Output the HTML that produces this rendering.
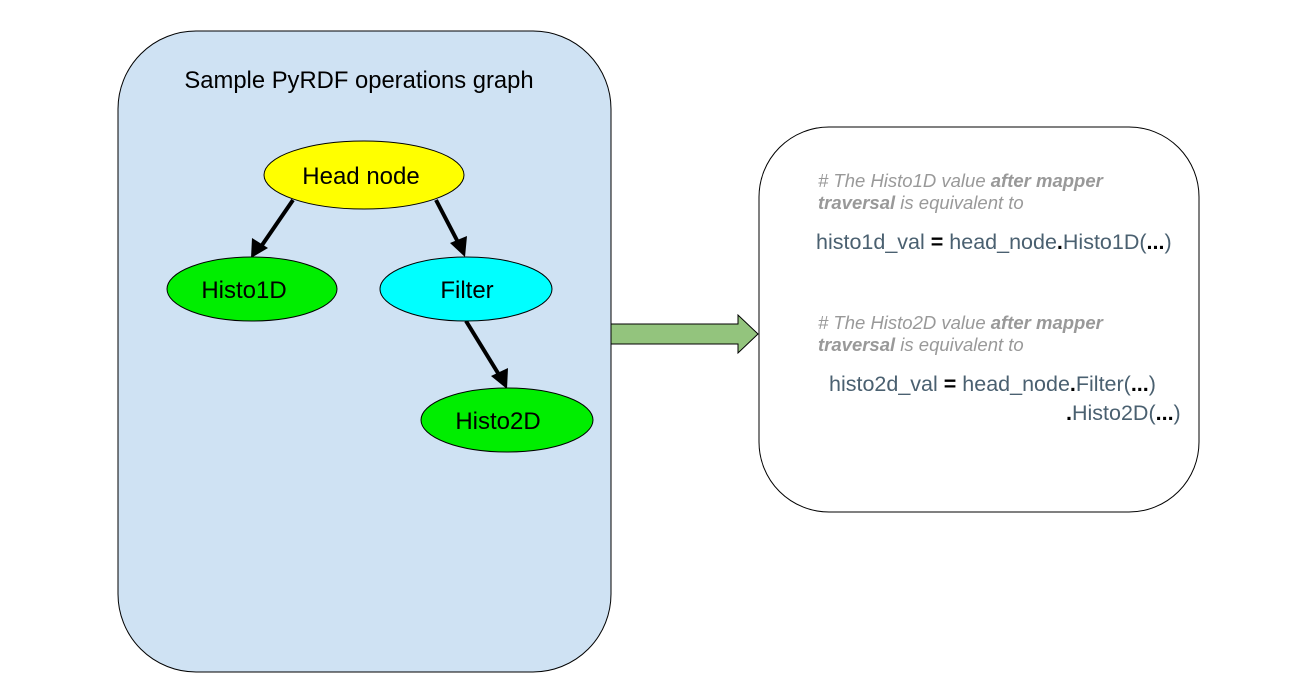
<!DOCTYPE html>
<html><head><style>
html,body{margin:0;padding:0;background:#fff;}
body{width:1302px;height:690px;position:relative;overflow:hidden;font-family:"Liberation Sans",sans-serif;}
.t{position:absolute;white-space:nowrap;line-height:1;}
.c{color:#999;font-style:italic;font-size:18.5px;}
.c b{color:#999;}
.code{color:#4a6070;font-size:21.5px;}
.code b{color:#000;}
</style></head><body>
<svg width="1302" height="690" style="position:absolute;left:0;top:0">
<rect x="118" y="31" width="493" height="641" rx="78" fill="#cfe2f3" stroke="#000" stroke-width="1"/>
<rect x="759" y="127" width="440" height="385" rx="70" fill="#fff" stroke="#000" stroke-width="1"/>
<path d="M611,324 L738,324 L738,315 L758,334 L738,353 L738,344 L611,344 z" fill="#93c47d" stroke="#000" stroke-width="1"/>
<line x1="293" y1="200" x2="258" y2="251" stroke="#000" stroke-width="4"/>
<path d="M251,258 L252,238 L268,248 z" fill="#000"/>
<line x1="436" y1="200" x2="461" y2="248" stroke="#000" stroke-width="4"/>
<path d="M465,257 L450,243 L467,236 z" fill="#000"/>
<line x1="466" y1="321" x2="501" y2="378" stroke="#000" stroke-width="4"/>
<path d="M507,389 L491,376 L508,368 z" fill="#000"/>
<ellipse cx="364" cy="175" rx="100" ry="34" fill="#ffff00" stroke="#000"/>
<ellipse cx="252" cy="289" rx="85" ry="32" fill="#00ee00" stroke="#000"/>
<ellipse cx="466" cy="289" rx="86" ry="32" fill="#00ffff" stroke="#000"/>
<ellipse cx="507" cy="420" rx="86" ry="32" fill="#00ee00" stroke="#000"/>
<g font-family="Liberation Sans, sans-serif" font-size="24" text-anchor="middle" fill="#000">
<text x="361" y="184">Head node</text>
<text x="244" y="298">Histo1D</text>
<text x="467" y="298">Filter</text>
<text x="498" y="429">Histo2D</text>
<text x="359" y="88" font-size="23.8">Sample PyRDF operations graph</text>
</g>
</svg>
<div class="t c" style="left:818px;top:172px">#&nbsp;The Histo1D value <b>after mapper</b></div>
<div class="t c" style="left:818px;top:194px"><b>traversal</b> is equivalent to</div>
<div class="t code" style="left:816px;top:232px">histo1d_val <b>=</b> head_node<b>.</b>Histo1D(<b>...</b>)</div>
<div class="t c" style="left:818px;top:314px">#&nbsp;The Histo2D value <b>after mapper</b></div>
<div class="t c" style="left:818px;top:336px"><b>traversal</b> is equivalent to</div>
<div class="t code" style="left:829px;top:374px">histo2d_val <b>=</b> head_node<b>.</b>Filter(<b>...</b>)</div>
<div class="t code" style="left:1066px;top:403px"><b>.</b>Histo2D(<b>...</b>)</div>
</body></html>
